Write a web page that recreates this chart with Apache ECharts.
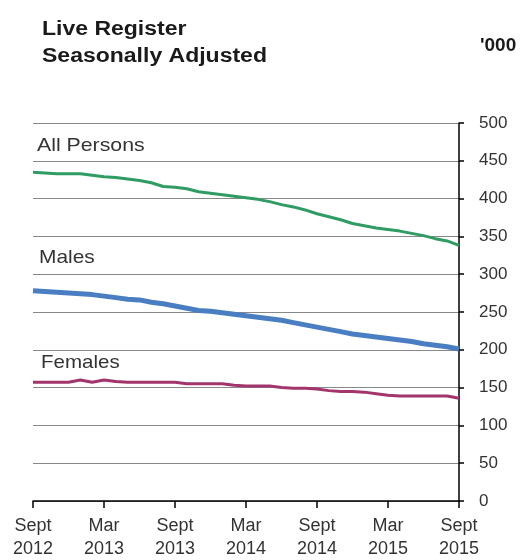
<!DOCTYPE html>
<html><head><meta charset="utf-8">
<script src="https://cdn.jsdelivr.net/npm/echarts@6/dist/echarts.min.js"></script>
<style>html,body{margin:0;padding:0;background:#fff}#c{width:526px;height:560px}</style>
</head><body><div id="c"></div>
<script>
const months = [
"Sept\n2012","Oct\n2012","Nov\n2012","Dec\n2012","Jan\n2013","Feb\n2013",
"Mar\n2013","Apr\n2013","May\n2013","Jun\n2013","Jul\n2013","Aug\n2013",
"Sept\n2013","Oct\n2013","Nov\n2013","Dec\n2013","Jan\n2014","Feb\n2014",
"Mar\n2014","Apr\n2014","May\n2014","Jun\n2014","Jul\n2014","Aug\n2014",
"Sept\n2014","Oct\n2014","Nov\n2014","Dec\n2014","Jan\n2015","Feb\n2015",
"Mar\n2015","Apr\n2015","May\n2015","Jun\n2015","Jul\n2015","Aug\n2015",
"Sept\n2015"];
const allPersons = [435,434,433,433,433,431,429,428,426,424,421,416,415,413,409,407,405,403,401,399,396,392,389,385,380,376,372,367,364,361,359,357,354,351,347,344,338];
const males = [278,277,276,275,274,273,271,269,267,266,263,261,258,255,252,251,249,247,245,243,241,239,236,233,230,227,224,221,219,217,215,213,211,208,206,204,201];
const females = [157,157,157,157,160,157,160,158,157,157,157,157,157,155,155,155,155,153,152,152,152,150,149,149,148,146,145,145,144,142,140,139,139,139,139,139,136];
const yTicks = {min:0, max:500, step:50};
const seriesNames = ["All Persons","Males","Females"];
const titleLines = ["Live Register","Seasonally Adjusted"];
const unitLabel = "'000";

const chart = echarts.init(document.getElementById('c'), null, {renderer:'canvas'});
const font = "'Liberation Sans', Arial, sans-serif";
chart.setOption({
  animation:false,
  backgroundColor:'#fff',
  grid:{left:33,right:67,top:123,bottom:59,containLabel:false,outerBoundsMode:'none'},
  xAxis:{
    type:'category', data:months, boundaryGap:false,
    axisLine:{lineStyle:{color:'#000',width:1.5}},
    axisTick:{interval:5,length:7,lineStyle:{color:'#000',width:1.5}},
    axisLabel:{interval:5,color:'#333',fontFamily:font,fontSize:18,lineHeight:23,margin:14},
    splitLine:{show:false}
  },
  yAxis:{
    type:'value', position:'right', min:yTicks.min, max:yTicks.max, interval:yTicks.step,
    axisLine:{show:true,lineStyle:{color:'#000',width:1.5}},
    axisTick:{show:true,length:5,lineStyle:{color:'#000',width:1.5}},
    axisLabel:{color:'#333',fontFamily:font,fontSize:17,margin:20},
    splitLine:{lineStyle:{color:'#888',width:1}}
  },
  series:[
    {name:seriesNames[0],type:'line',data:allPersons,symbol:'none',lineStyle:{color:'#2f9c63',width:3},z:3},
    {name:seriesNames[1],type:'line',data:males,symbol:'none',lineStyle:{color:'#4a7ec2',width:5},z:3},
    {name:seriesNames[2],type:'line',data:females,symbol:'none',lineStyle:{color:'#a3356c',width:3},z:3}
  ],
  graphic:[
    {type:'text',x:42,y:16,scaleX:1.15,style:{text:titleLines.join('\n'),font:"bold 20px "+font,fill:'#1a1a1a',lineHeight:27}},
    {type:'text',x:480,y:36,style:{text:unitLabel,font:"bold 19px "+font,fill:'#1a1a1a'}},
    {type:'text',x:37,y:136,scaleX:1.12,style:{text:seriesNames[0],font:"19px "+font,fill:'#333'}},
    {type:'text',x:39,y:248,scaleX:1.1,style:{text:seriesNames[1],font:"19px "+font,fill:'#333'}},
    {type:'text',x:41,y:353,scaleX:1.08,style:{text:seriesNames[2],font:"19px "+font,fill:'#333'}}
  ]
});
</script></body></html>
